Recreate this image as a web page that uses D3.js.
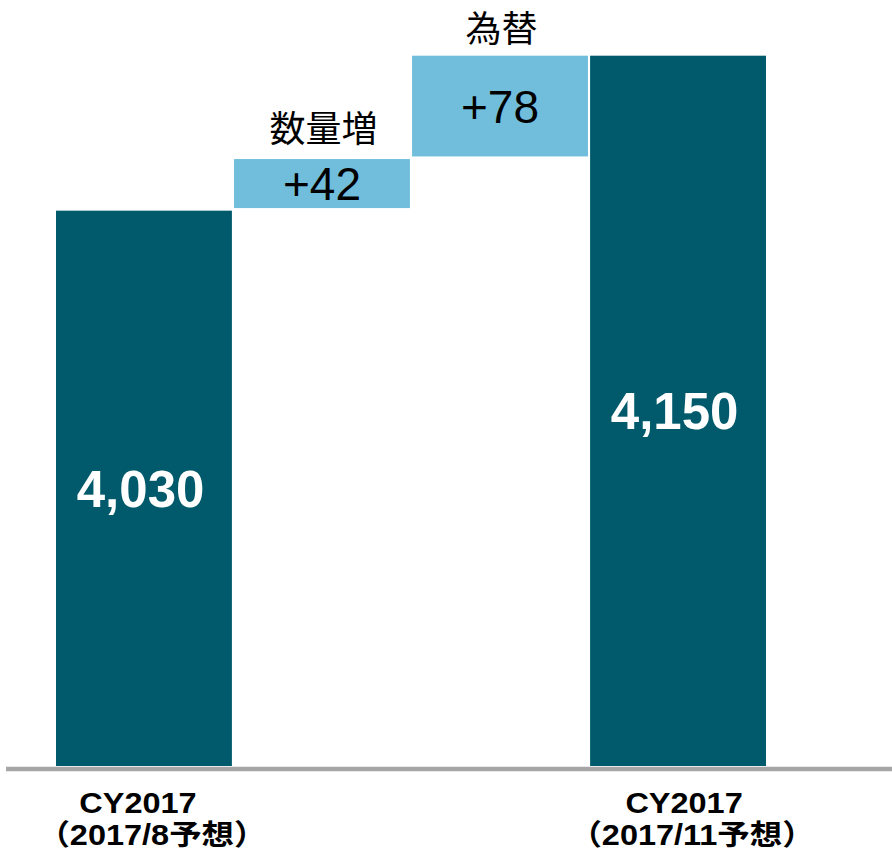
<!DOCTYPE html>
<html>
<head>
<meta charset="utf-8">
<script src="https://cdn.jsdelivr.net/npm/d3@7"></script>
<style>
  html, body { margin: 0; padding: 0; background: #ffffff; }
  svg { display: block; }
</style>
</head>
<body>
<svg id="chart" width="892" height="859"></svg>
<script>
// ---- data ----
const categories = ["CY2017（2017/8予想）", "数量増", "為替", "CY2017（2017/11予想）"];
const barTypes   = ["total", "delta", "delta", "total"];
const values     = [4030, 42, 78, 4150];
const topLabels  = ["", "数量増", "為替", ""];
const xLabelLine1 = ["CY2017", "", "", "CY2017"];
const xLabelLine2 = ["（2017/8予想）", "", "", "（2017/11予想）"];
const yAxisMin = 3600;

// ---- style / layout ----
const W = 892, H = 859;
const darkColor = "#005A6B", lightColor = "#70BEDC", axisColor = "#A6A6A6";
const deltaInset = [0, 2.6, 0, 0];
const valueDx = [-3.4, 0, 0, -3.4];
const line1Dx = [-6, 0, 0, 6];
const line2Dx = [8, 0, 0, 14];

// build waterfall segments
let running = 0;
const segs = values.map((v, i) => {
  let lo, hi;
  if (barTypes[i] === "total") { lo = yAxisMin; hi = v; running = v; }
  else { lo = running; hi = running + v; running = hi; }
  return { i, cat: categories[i], type: barTypes[i], value: v, lo, hi };
});

const svg = d3.select("#chart");
const x = d3.scaleBand().domain(categories).range([56, 766]).paddingInner(0.012).paddingOuter(0);
const y = d3.scaleLinear().domain([yAxisMin, d3.max(values)]).range([766, 55.7]);

// bars
svg.append("g").selectAll("rect").data(segs).join("rect")
  .attr("x", d => x(d.cat))
  .attr("width", x.bandwidth())
  .attr("y", d => y(d.hi) + deltaInset[d.i])
  .attr("height", d => y(d.lo) - y(d.hi) - 2 * deltaInset[d.i])
  .attr("fill", d => d.type === "total" ? darkColor : lightColor);

// baseline
svg.append("line")
  .attr("x1", 6).attr("x2", W)
  .attr("y1", y(yAxisMin) + 3).attr("y2", y(yAxisMin) + 3)
  .attr("stroke", axisColor).attr("stroke-width", 4.6);

const fmt = d3.format(",");
// value labels
svg.append("g").selectAll("text").data(segs).join("text")
  .attr("x", d => x(d.cat) + x.bandwidth() / 2 + valueDx[d.i])
  .attr("y", d => (y(d.lo) + y(d.hi)) / 2)
  .attr("dy", "0.36em")
  .attr("text-anchor", "middle")
  .attr("font-family", "'Liberation Sans', Arial, sans-serif")
  .attr("font-weight", d => d.type === "total" ? "bold" : "normal")
  .attr("font-size", d => d.type === "total" ? 51 : 46)
  .attr("fill", d => d.type === "total" ? "#ffffff" : "#000000")
  .text(d => d.type === "total" ? fmt(d.value) : "+" + fmt(d.value));

// top labels for delta bars
svg.append("g").selectAll("text").data(segs.filter(d => topLabels[d.i])).join("text")
  .attr("x", d => x(d.cat) + x.bandwidth() / 2 + 1.5)
  .attr("y", d => y(d.hi) - 14)
  .attr("text-anchor", "middle")
  .attr("font-family", "'Noto Sans CJK JP', sans-serif")
  .attr("font-size", 36)
  .attr("fill", "#000000")
  .text(d => topLabels[d.i]);

// x-axis category labels
const xl = svg.append("g").selectAll("g").data(segs.filter(d => xLabelLine1[d.i])).join("g");
xl.append("text")
  .attr("transform", d => `translate(${x(d.cat) + x.bandwidth() / 2 + line1Dx[d.i]},813.3) scale(1.12,1)`)
  .attr("text-anchor", "middle")
  .attr("font-family", "'Liberation Sans', Arial, 'Noto Sans CJK JP', sans-serif")
  .attr("font-weight", "bold")
  .attr("font-size", 29)
  .attr("fill", "#000000")
  .text(d => xLabelLine1[d.i]);
xl.append("text")
  .attr("transform", d => `translate(${x(d.cat) + x.bandwidth() / 2 + line2Dx[d.i]},845) scale(1.12,1)`)
  .attr("text-anchor", "middle")
  .attr("font-family", "'Liberation Sans', Arial, 'Noto Sans CJK JP', sans-serif")
  .attr("font-weight", "bold")
  .attr("font-size", 29)
  .attr("fill", "#000000")
  .text(d => xLabelLine2[d.i]);
</script>
</body>
</html>
